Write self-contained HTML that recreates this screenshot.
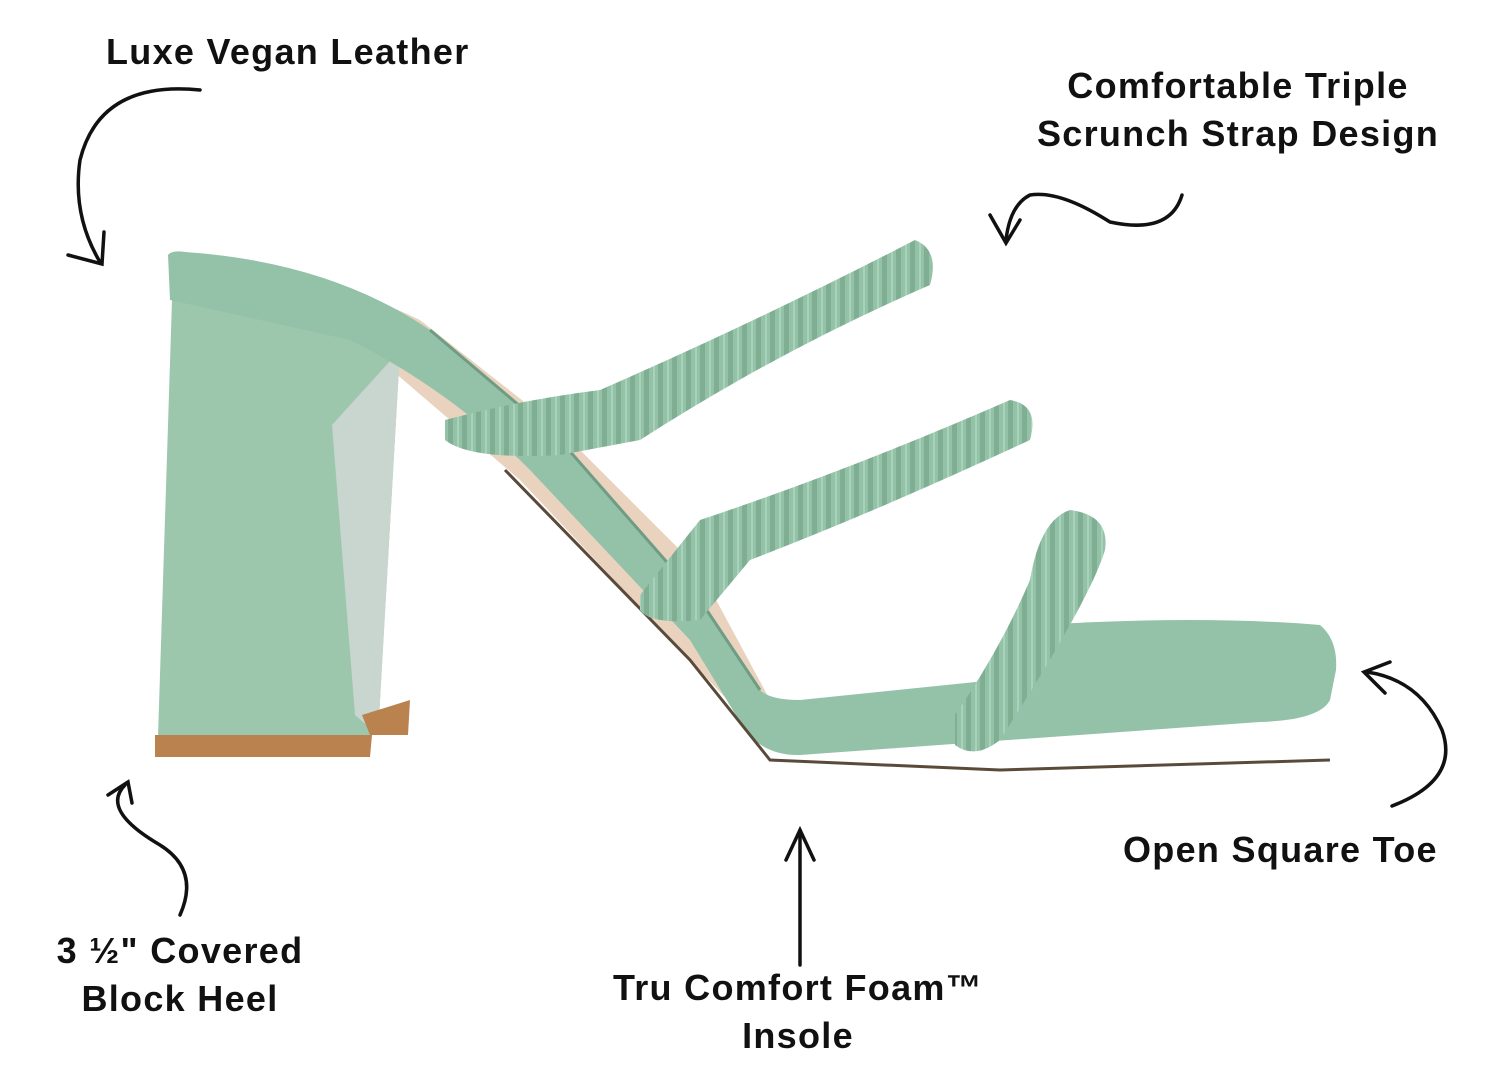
<!DOCTYPE html>
<html><head><meta charset="utf-8"><style>
html,body{margin:0;padding:0;background:#fff;}
body{width:1500px;height:1087px;position:relative;overflow:hidden;font-family:"Liberation Sans",sans-serif;}
.t{position:absolute;font-weight:bold;font-size:36px;letter-spacing:1.3px;color:#111;text-align:center;line-height:48px;white-space:nowrap;}
</style></head><body>
<svg width="1500" height="1087" style="position:absolute;left:0;top:0">
<defs>
<pattern id="sc" width="14" height="20" patternUnits="userSpaceOnUse">
<rect width="14" height="20" fill="#93c2a8"/><rect x="0" width="5" height="20" fill="#7fae93"/><rect x="9" width="2" height="20" fill="#a9d2bb"/>
</pattern>
</defs>
<path d="M175 262 Q300 262 420 320 L560 430 L700 570 L770 700 L1000 700 L1320 650 L1330 690 L1000 730 L770 745 L520 480 L380 360 Z" fill="#e9d3be"/>
<polygon points="172,300 400,350 378,735 158,737" fill="#9cc7ad"/>
<polygon points="332,425 400,350 378,735 355,715" fill="#c9d5cf"/>
<polygon points="155,735 372,735 370,757 155,757" fill="#b9824f"/>
<polygon points="362,715 410,700 408,735 370,735" fill="#b9824f"/>
<path d="M168 255 Q172 250 185 252 Q330 262 430 330 L560 440 L700 600 L760 690 Q770 700 800 700 L1240 655 Q1335 640 1336 670 L1330 700 Q1320 720 1260 722 L800 755 Q765 756 745 730 L690 640 L530 470 Q450 390 350 340 L170 300 Z" fill="#93c2a8"/>
<path d="M430 330 L560 440 L700 600 L760 690" fill="none" stroke="#6f9c82" stroke-width="3"/>
<path d="M505 470 L690 660 L770 760 L1000 770 L1330 760" fill="none" stroke="#5a4a3a" stroke-width="3"/>
<path d="M1040 625 Q1200 615 1320 625 Q1338 640 1336 670 Q1320 700 1260 705 L1040 715 Z" fill="#93c2a8"/>
<path d="M445 420 Q520 400 600 390 Q760 320 915 240 Q940 250 930 285 Q780 350 640 440 L560 455 Q470 460 445 440 Z" fill="url(#sc)"/>
<path d="M640 595 L700 520 Q850 470 1010 400 Q1040 405 1030 440 Q880 510 750 560 L700 620 Q650 625 640 610 Z" fill="url(#sc)"/>
<path d="M955 715 Q1000 650 1030 580 Q1040 520 1070 510 Q1110 515 1105 550 Q1090 600 1000 740 Q975 760 955 745 Z" fill="url(#sc)"/>
<g fill="none" stroke="#111" stroke-width="3.5" stroke-linecap="round">
<path d="M200 90 Q100 80 80 160 Q72 215 100 262"/><path d="M68 255 L102 264 L104 232"/>
<path d="M1182 195 Q1170 235 1110 222 Q1060 190 1030 195 Q1010 205 1006 240"/><path d="M990 215 L1006 243 L1020 220"/>
<path d="M1392 806 Q1460 780 1442 730 Q1420 680 1367 672"/><path d="M1390 662 L1364 672 L1385 693"/>
<path d="M180 915 Q200 870 160 845 Q100 810 125 785"/><path d="M108 795 L128 782 L132 803"/>
<path d="M800 965 L800 830"/><path d="M786 860 L800 830 L814 860"/>
</g>
</svg>
<div class="t" style="left:106px;top:28px">Luxe Vegan Leather</div>
<div class="t" style="left:1008px;top:62px;width:460px">Comfortable Triple<br>Scrunch Strap Design</div>
<div class="t" style="left:1123px;top:826px">Open Square Toe</div>
<div class="t" style="left:20px;top:927px;width:320px">3 ½" Covered<br>Block Heel</div>
<div class="t" style="left:578px;top:964px;width:440px">Tru Comfort Foam™<br>Insole</div>
</body></html>
